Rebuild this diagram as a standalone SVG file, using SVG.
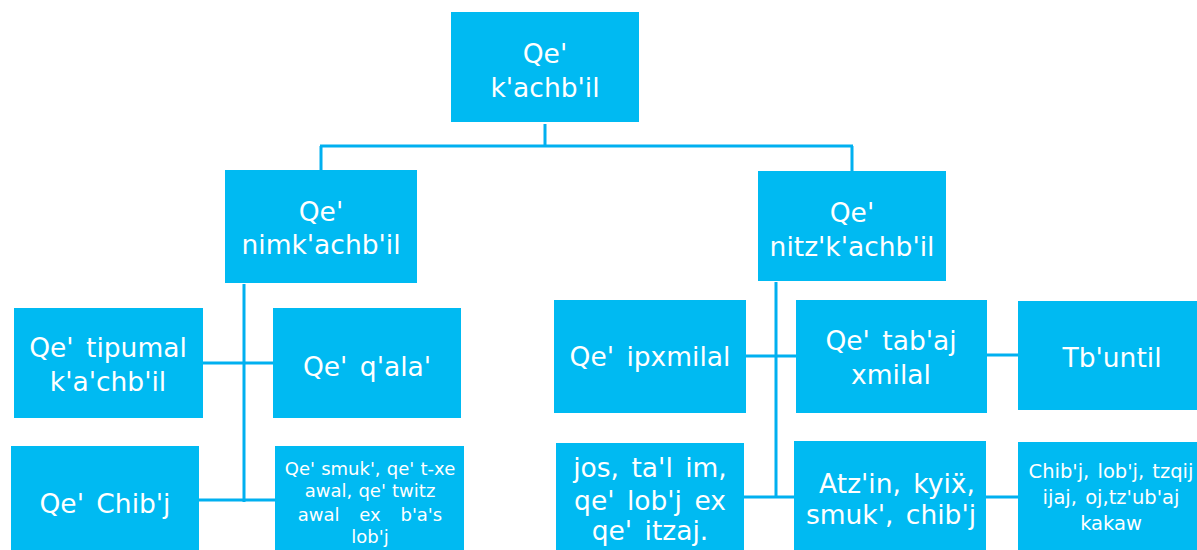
<svg xmlns="http://www.w3.org/2000/svg" width="1197" height="550" viewBox="0 0 1197 550">
<style>
.box{fill:#00BAF2;}
.t{font-family:"DejaVu Sans",sans-serif;font-size:26.5px;fill:#ffffff;text-anchor:middle;word-spacing:4px;}
.s{font-family:"DejaVu Sans",sans-serif;font-size:18px;fill:#ffffff;text-anchor:middle;word-spacing:0.5px;}
.m{font-family:"DejaVu Sans",sans-serif;font-size:19.5px;fill:#ffffff;text-anchor:middle;word-spacing:2px;}
.c{stroke:#00B0F0;stroke-width:3;fill:none;}
</style>
<rect width="1197" height="550" fill="#ffffff"/>
<g id="connectors" class="c">
<path d="M545 124V146M320 146H853M321 146V170M852 146V171"/>
<path d="M244 284V502M203 363H273M199 500H275"/>
<path d="M776 282V497M746 356H796M744 497H794M987 355H1018M986 497H1018"/>
</g>
<g id="n-root"><rect class="box" x="451" y="12" width="188" height="110"/>
<text class="t" x="545" y="63">Qe'</text><text class="t" x="545" y="97">k'achb'il</text></g>
<g id="n-nim"><rect class="box" x="225" y="170" width="192" height="113"/>
<text class="t" x="321" y="221">Qe'</text><text class="t" x="321" y="254">nimk'achb'il</text></g>
<g id="n-nitz"><rect class="box" x="758" y="171" width="188" height="110"/>
<text class="t" x="852" y="222">Qe'</text><text class="t" x="852" y="256">nitz'k'achb'il</text></g>
<g id="n-tipumal"><rect class="box" x="14" y="308" width="189" height="110"/>
<text class="t" x="108" y="357">Qe' tipumal</text><text class="t" x="108" y="391">k'a'chb'il</text></g>
<g id="n-qala"><rect class="box" x="273" y="308" width="188" height="110"/>
<text class="t" x="367" y="376">Qe' q'ala'</text></g>
<g id="n-chibj"><rect class="box" x="11" y="446" width="188" height="110"/>
<text class="t" x="105" y="513">Qe' Chib'j</text></g>
<g id="n-smuk"><rect class="box" x="275" y="446" width="189" height="110"/>
<text class="s" x="370" y="475">Qe' smuk', qe' t-xe</text>
<text class="s" x="370" y="497">awal, qe' twitz</text>
<text class="s" x="370" y="521" style="word-spacing:14px">awal ex b'a's</text>
<text class="s" x="370" y="543">lob'j</text></g>
<g id="n-ipxmilal"><rect class="box" x="554" y="300" width="192" height="113"/>
<text class="t" x="650" y="366">Qe' ipxmilal</text></g>
<g id="n-tabaj"><rect class="box" x="796" y="300" width="191" height="113"/>
<text class="t" x="891" y="350">Qe' tab'aj</text><text class="t" x="891" y="384">xmilal</text></g>
<g id="n-tbuntil"><rect class="box" x="1018" y="301" width="186" height="109"/>
<text class="t" x="1112" y="367">Tb'until</text></g>
<g id="n-jos"><rect class="box" x="556" y="443" width="188" height="110"/>
<text class="t" x="650" y="477">jos, ta'l im,</text>
<text class="t" x="650" y="510">qe' lob'j ex</text>
<text class="t" x="650" y="540">qe' itzaj.</text></g>
<g id="n-atzin"><rect class="box" x="794" y="441" width="192" height="112"/>
<text class="t" x="897" y="493">Atz'in, kyiẍ,</text>
<text class="t" x="891" y="524">smuk', chib'j</text></g>
<g id="n-kakaw"><rect class="box" x="1018" y="442" width="186" height="110"/>
<text class="m" x="1111" y="478">Chib'j, lob'j, tzqij</text>
<text class="m" x="1111" y="504">ijaj, oj,tz'ub'aj</text>
<text class="m" x="1111" y="530">kakaw</text></g>
</svg>
